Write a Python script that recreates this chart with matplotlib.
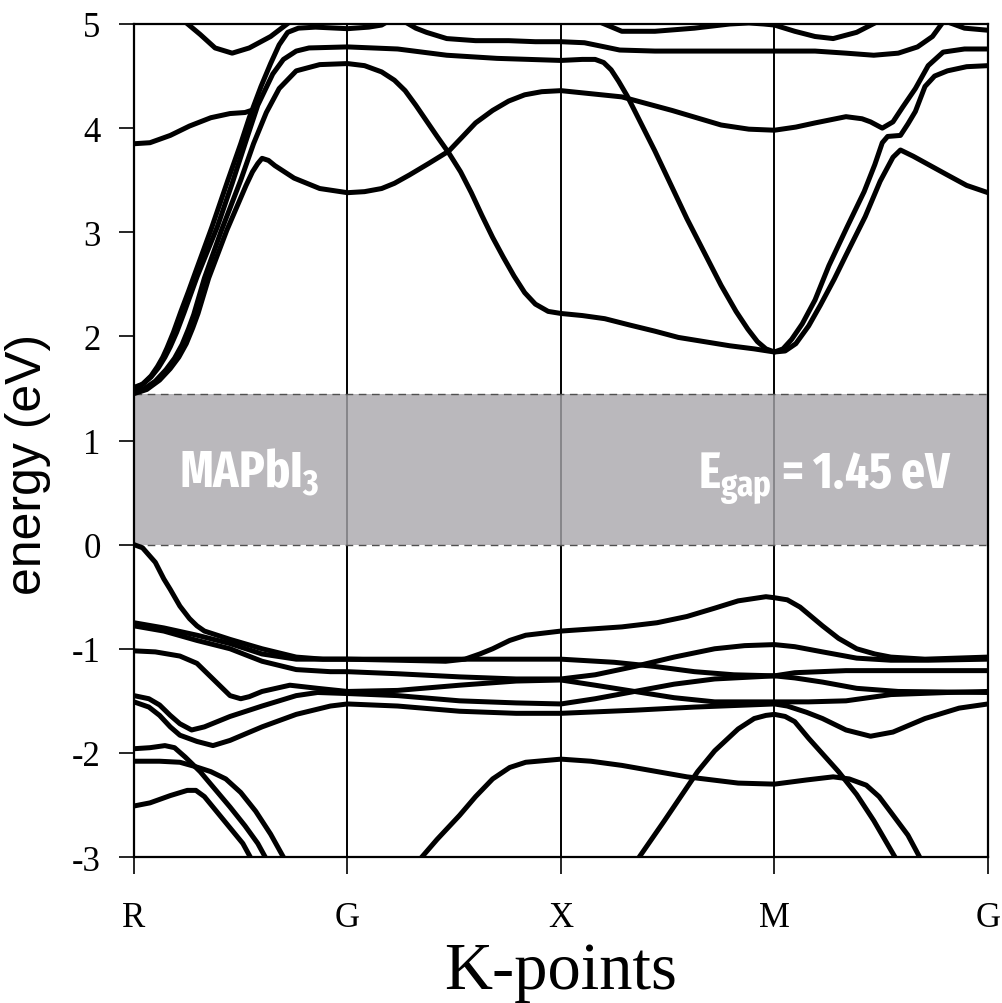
import matplotlib
matplotlib.use("Agg")
import matplotlib.pyplot as plt
from matplotlib import font_manager as fm

plt.rcParams['axes.unicode_minus'] = False
plt.rcParams['mathtext.default'] = 'regular'

# ---------------- data ----------------
k_nodes = [0, 1, 2, 3, 4]
k_labels = ['R', 'G', 'X', 'M', 'G']
y_ticks = [-3, -2, -1, 0, 1, 2, 3, 4, 5]
y_labels = ['-3', '-2', '-1', '0', '1', '2', '3', '4', '5']
gap_low, gap_high = 0.0, 1.45
label_material = r'MAPbI$_{3}$'
label_gap = r'E$_{gap}$ = 1.45 eV'

# conduction bands (k, E)
cb_a = [(0, 1.50), (0.04, 1.54), (0.08, 1.62), (0.11, 1.71), (0.135, 1.80), (0.155, 1.89),
        (0.185, 2.04), (0.22, 2.24), (0.255, 2.43), (0.285, 2.60), (0.365, 3.05), (0.44, 3.50),
        (0.50, 3.85), (0.54, 4.10), (0.595, 4.4), (0.64, 4.62), (0.68, 4.80), (0.72, 4.92),
        (0.77, 4.96), (0.85, 4.97), (1.0, 4.955), (1.10, 4.97), (1.16, 4.99), (1.21, 5.05)]
cb_b = [(0, 1.51), (0.04, 1.54), (0.08, 1.61), (0.115, 1.70), (0.145, 1.80), (0.17, 1.90),
        (0.20, 2.04), (0.235, 2.23), (0.265, 2.40), (0.295, 2.57), (0.39, 3.05), (0.46, 3.47),
        (0.525, 3.88), (0.58, 4.22), (0.65, 4.52), (0.70, 4.66), (0.76, 4.74), (0.82, 4.77),
        (1.0, 4.78), (1.235, 4.76), (1.465, 4.70), (1.70, 4.67), (2.0, 4.65), (2.10, 4.66),
        (2.16, 4.66), (2.20, 4.63), (2.235, 4.56), (2.27, 4.45), (2.31, 4.31), (2.44, 3.78),
        (2.59, 3.13), (2.75, 2.49), (2.82, 2.24), (2.875, 2.07), (2.92, 1.95), (2.96, 1.88),
        (3.0, 1.85), (3.04, 1.88), (3.08, 1.97), (3.13, 2.12), (3.19, 2.35), (3.255, 2.68),
        (3.34, 3.05), (3.42, 3.39), (3.47, 3.65), (3.505, 3.86), (3.53, 3.92), (3.59, 3.93),
        (3.625, 4.04), (3.66, 4.16), (3.705, 4.40), (3.75, 4.50), (3.81, 4.55), (3.90, 4.59),
        (4.0, 4.6)]
cb_c = [(0, 1.47), (0.05, 1.50), (0.10, 1.57), (0.15, 1.68), (0.19, 1.79), (0.225, 1.92),
        (0.255, 2.07), (0.28, 2.21), (0.33, 2.56), (0.41, 3.02), (0.50, 3.5), (0.56, 3.85),
        (0.62, 4.15), (0.68, 4.38), (0.76, 4.55), (0.87, 4.61), (1.0, 4.62), (1.08, 4.60),
        (1.16, 4.54), (1.22, 4.46), (1.27, 4.36), (1.32, 4.22), (1.37, 4.07), (1.42, 3.92),
        (1.475, 3.76), (1.53, 3.58), (1.58, 3.38), (1.63, 3.16), (1.68, 2.95), (1.73, 2.76),
        (1.78, 2.58), (1.83, 2.42), (1.88, 2.31), (1.94, 2.24), (2.0, 2.22), (2.10, 2.20),
        (2.205, 2.17), (2.32, 2.11), (2.44, 2.05), (2.55, 1.99), (2.67, 1.95), (2.79, 1.91),
        (2.905, 1.88), (3.0, 1.85), (3.05, 1.86), (3.10, 1.93), (3.16, 2.10), (3.215, 2.3),
        (3.28, 2.55), (3.335, 2.78), (3.425, 3.15), (3.495, 3.49), (3.555, 3.72), (3.59, 3.79),
        (3.65, 3.73), (3.73, 3.64), (3.81, 3.55), (3.90, 3.45), (4.0, 3.38)]
cb_d = [(0, 1.45), (0.06, 1.49), (0.12, 1.58), (0.17, 1.69), (0.21, 1.80), (0.245, 1.93),
        (0.275, 2.08), (0.30, 2.22), (0.35, 2.56), (0.435, 3.02), (0.525, 3.45), (0.555, 3.58),
        (0.58, 3.66), (0.60, 3.71), (0.63, 3.69), (0.66, 3.64), (0.75, 3.52), (0.87, 3.42),
        (1.0, 3.38), (1.08, 3.39), (1.16, 3.42), (1.22, 3.47), (1.29, 3.55), (1.38, 3.66),
        (1.475, 3.78), (1.54, 3.92), (1.60, 4.05), (1.68, 4.17), (1.755, 4.26), (1.83, 4.32),
        (1.91, 4.35), (2.0, 4.36), (2.285, 4.30), (2.52, 4.17), (2.75, 4.03), (2.88, 3.99),
        (3.0, 3.98), (3.10, 4.01), (3.19, 4.05), (3.335, 4.11), (3.41, 4.09), (3.45, 4.06),
        (3.505, 4.0), (3.555, 4.06), (3.60, 4.2), (3.66, 4.38), (3.72, 4.6), (3.79, 4.73),
        (3.89, 4.76), (4.0, 4.76)]
cb_e = [(0, 3.85), (0.075, 3.86), (0.17, 3.93), (0.26, 4.02), (0.36, 4.10), (0.45, 4.14),
        (0.52, 4.15), (0.55, 4.17)]
cb_f = [(1.27, 5.02), (1.32, 4.96), (1.37, 4.92), (1.465, 4.86), (1.60, 4.84), (1.755, 4.84),
        (1.88, 4.83), (2.0, 4.83), (2.11, 4.82), (2.205, 4.78), (2.275, 4.75), (2.44, 4.74),
        (2.72, 4.74), (3.0, 4.74), (3.19, 4.74), (3.335, 4.72), (3.465, 4.70), (3.58, 4.72),
        (3.67, 4.78), (3.74, 4.88), (3.79, 5.02)]
cb_g = [(0.24, 5.02), (0.31, 4.9), (0.38, 4.77), (0.46, 4.72), (0.54, 4.77), (0.64, 4.88),
        (0.73, 5.02)]
cb_h = [(2.18, 5.02), (2.285, 4.93), (2.44, 4.93), (2.625, 4.96), (2.79, 5.0), (2.88, 5.01),
        (2.95, 5.0), (3.0, 4.99), (3.095, 4.93), (3.19, 4.88), (3.275, 4.86), (3.385, 4.92),
        (3.48, 5.02)]
cb_i = [(3.81, 5.02), (3.89, 4.96), (4.0, 4.94)]

# valence bands (k, E)
vb1 = [(0, 0.0), (0.04, -0.03), (0.10, -0.17), (0.14, -0.33), (0.17, -0.43), (0.215, -0.59),
       (0.26, -0.71), (0.295, -0.78), (0.33, -0.83), (0.45, -0.91), (0.60, -1.0), (0.76, -1.08),
       (0.885, -1.10), (1.0, -1.10), (1.235, -1.11), (1.46, -1.12), (1.55, -1.10), (1.62, -1.05),
       (1.68, -1.0), (1.76, -0.92), (1.835, -0.87), (2.0, -0.83), (2.285, -0.79), (2.45, -0.75),
       (2.59, -0.69), (2.72, -0.61), (2.83, -0.54), (2.96, -0.50), (3.0, -0.51), (3.06, -0.53),
       (3.12, -0.60), (3.225, -0.78), (3.30, -0.90), (3.385, -1.0), (3.47, -1.05), (3.545, -1.08),
       (3.705, -1.10), (4.0, -1.08)]
vb2 = [(0, -0.75), (0.14, -0.80), (0.295, -0.87), (0.45, -0.95), (0.60, -1.05), (0.76, -1.10),
       (0.885, -1.10), (1.0, -1.10), (1.235, -1.10), (1.525, -1.10), (1.79, -1.10), (2.0, -1.10),
       (2.25, -1.13), (2.44, -1.17), (2.625, -1.22), (2.81, -1.25), (3.0, -1.26), (3.095, -1.23),
       (3.335, -1.21), (3.58, -1.21), (4.0, -1.21)]
vb3 = [(0, -0.78), (0.14, -0.83), (0.295, -0.92), (0.45, -1.0), (0.60, -1.12), (0.76, -1.20),
       (0.92, -1.22), (1.0, -1.22), (1.235, -1.24), (1.525, -1.27), (1.79, -1.29), (2.0, -1.29),
       (2.16, -1.25), (2.345, -1.17), (2.53, -1.08), (2.72, -1.0), (2.86, -0.97), (3.0, -0.96),
       (3.095, -0.98), (3.225, -1.03), (3.385, -1.09), (3.545, -1.11), (3.72, -1.11), (4.0, -1.10)]
vb4 = [(0, -1.02), (0.10, -1.03), (0.215, -1.07), (0.295, -1.14), (0.37, -1.29), (0.45, -1.45),
       (0.50, -1.48), (0.54, -1.46), (0.60, -1.41), (0.73, -1.35), (0.86, -1.38), (1.0, -1.41),
       (1.235, -1.40), (1.525, -1.35), (1.79, -1.31), (2.0, -1.30), (2.16, -1.35), (2.345, -1.41),
       (2.53, -1.47), (2.72, -1.51), (3.0, -1.51), (3.16, -1.51), (3.335, -1.50), (3.545, -1.44),
       (3.81, -1.42), (4.0, -1.41)]
vb5 = [(0, -1.45), (0.07, -1.48), (0.12, -1.54), (0.17, -1.64), (0.215, -1.72), (0.27, -1.78),
       (0.33, -1.75), (0.45, -1.65), (0.60, -1.55), (0.76, -1.45), (0.86, -1.42), (1.0, -1.43),
       (1.235, -1.45), (1.525, -1.50), (1.79, -1.52), (2.0, -1.53), (2.16, -1.48), (2.345, -1.41),
       (2.53, -1.34), (2.72, -1.29), (3.0, -1.26), (3.095, -1.28), (3.225, -1.32), (3.385, -1.38),
       (3.58, -1.41), (4.0, -1.42)]
vb6 = [(0, -1.51), (0.07, -1.56), (0.12, -1.64), (0.17, -1.75), (0.215, -1.83), (0.295, -1.89),
       (0.37, -1.93), (0.45, -1.88), (0.60, -1.75), (0.76, -1.63), (0.92, -1.55), (1.0, -1.53),
       (1.235, -1.55), (1.525, -1.60), (1.79, -1.62), (2.0, -1.62), (2.345, -1.59), (2.625, -1.56),
       (3.0, -1.53), (3.06, -1.55), (3.15, -1.61), (3.225, -1.67), (3.335, -1.78), (3.45, -1.84),
       (3.555, -1.80), (3.705, -1.67), (3.865, -1.57), (4.0, -1.53)]
vb7 = [(0, -1.96), (0.075, -1.95), (0.145, -1.93), (0.19, -1.95), (0.24, -2.04), (0.31, -2.18),
       (0.38, -2.35), (0.45, -2.52), (0.52, -2.70), (0.58, -2.87), (0.62, -3.02)]
vb8 = [(0, -2.08), (0.12, -2.08), (0.215, -2.09), (0.285, -2.13), (0.36, -2.18), (0.43, -2.25),
       (0.50, -2.38), (0.57, -2.56), (0.64, -2.78), (0.705, -3.02)]
vb9 = [(0, -2.51), (0.075, -2.48), (0.17, -2.41), (0.25, -2.36), (0.29, -2.36), (0.33, -2.42),
       (0.39, -2.57), (0.45, -2.72), (0.51, -2.87), (0.55, -3.02)]
vb10 = [(1.34, -3.02), (1.42, -2.83), (1.525, -2.6), (1.60, -2.42), (1.68, -2.25), (1.76, -2.14),
        (1.835, -2.09), (2.0, -2.06), (2.14, -2.08), (2.285, -2.12), (2.59, -2.23), (2.83, -2.29),
        (3.0, -2.30), (3.15, -2.26), (3.275, -2.23), (3.35, -2.25), (3.43, -2.31), (3.49, -2.42),
        (3.545, -2.57), (3.625, -2.79), (3.685, -3.02)]
vb11 = [(2.36, -3.02), (2.485, -2.65), (2.64, -2.18), (2.72, -1.98), (2.83, -1.77), (2.905, -1.67),
        (2.96, -1.64), (3.0, -1.63), (3.05, -1.65), (3.095, -1.70), (3.16, -1.86), (3.30, -2.18),
        (3.385, -2.40), (3.465, -2.65), (3.57, -3.02)]

bands = [cb_a, cb_b, cb_c, cb_d, cb_e, cb_f, cb_g, cb_h, cb_i,
         vb1, vb2, vb3, vb4, vb5, vb6, vb7, vb8, vb9, vb10, vb11]


def condensed_bold_font():
    """Find an installed (extra) condensed / narrow bold sans font, if any."""
    found = []
    for f in fm.fontManager.ttflist:
        nm = f.name.lower()
        fn = f.fname.lower().replace('_', '').replace('-', '').replace(' ', '')
        st = str(f.stretch).lower().replace('-', '')
        cond = ('narrow' in nm or 'condensed' in nm or 'condensed' in st
                or 'narrow' in fn or 'condensed' in fn)
        bold = (str(f.weight).lower() in ('bold', '700')
                or fn.endswith('bold.ttf') or fn.endswith('bold.otf')
                or 'condensedbold' in fn or 'narrowbold' in fn)
        if not (cond and bold):
            continue
        if 'italic' in fn or 'oblique' in fn or 'mono' in nm or 'mono' in fn:
            continue
        if 'serif' in nm.replace('sans', '') or 'semibold' in fn or 'extrabold' in fn:
            continue
        if 'extracondensed' in fn or 'extracondensed' in st:
            rank = 0
        elif 'semicondensed' in fn or 'semicondensed' in st:
            rank = 3
        elif 'ultracondensed' in fn:
            rank = 2
        else:
            rank = 1
        found.append((rank, f.fname))
    found.sort()
    return found[0][1] if found else None


# ---------------- figure ----------------
fig = plt.figure(figsize=(10.02, 10.04), dpi=100)
ax = fig.add_axes([0.1337, 0.1454, 0.8523, 0.8297])

for kn in k_nodes[1:-1]:
    ax.axvline(kn, color='black', lw=1.4, zorder=1)

ax.axhspan(gap_low, gap_high, facecolor='#a9a7ac', alpha=0.8, lw=0, zorder=2)
for yv in (gap_low, gap_high):
    ax.axhline(yv, color='#505050', lw=1.0, ls=(0, (5.5, 4.0)), zorder=3)

for b in bands:
    ks = [p[0] for p in b]
    es = [p[1] for p in b]
    ax.plot(ks, es, color='black', lw=3.6, solid_joinstyle='round',
            solid_capstyle='round', zorder=4)

ax.set_xlim(k_nodes[0], k_nodes[-1])
ax.set_ylim(-3, 5)

font_path = condensed_bold_font()
if font_path:
    wprop = fm.FontProperties(fname=font_path, size=37)
else:
    wprop = fm.FontProperties(family='DejaVu Sans', weight='bold', size=37)

t1 = ax.text(0.21, 0.557, label_material, ha='left', va='baseline', zorder=6,
             color='white', fontproperties=wprop)
t2 = ax.text(3.83, 0.557, label_gap, ha='right', va='baseline', zorder=6,
             color='white', fontproperties=wprop)

# fit the white labels to the width they take in the reference
fig.canvas.draw()
r = fig.canvas.get_renderer()
w2 = t2.get_window_extent(r).width
new_size = min(39.0, 37 * 254.0 / w2)
new_size = max(new_size, 26)
for t in (t1, t2):
    t.set_fontsize(new_size)

ax.set_xticks(k_nodes)
ax.set_xticklabels(k_labels, family='Liberation Serif', fontsize=25)
ax.set_yticks(y_ticks)
ax.set_yticklabels(y_labels, family='Liberation Serif', fontsize=25)
ax.tick_params(axis='x', direction='out', length=12, width=1.2, pad=20)
ax.tick_params(axis='y', direction='out', length=11, width=1.2, pad=13)

for sp in ax.spines.values():
    sp.set_linewidth(1.6)
    sp.set_color('black')

ax.set_xlabel('K-points', family='Liberation Serif', fontsize=48)
ax.xaxis.set_label_coords(0.5, -0.101)
ax.xaxis.label.set_va('top')
ax.set_ylabel('energy (eV)', family='Liberation Sans', fontsize=36)
ax.yaxis.set_label_coords(-0.097, 0.472)

fig.savefig('out.png', dpi=100)
